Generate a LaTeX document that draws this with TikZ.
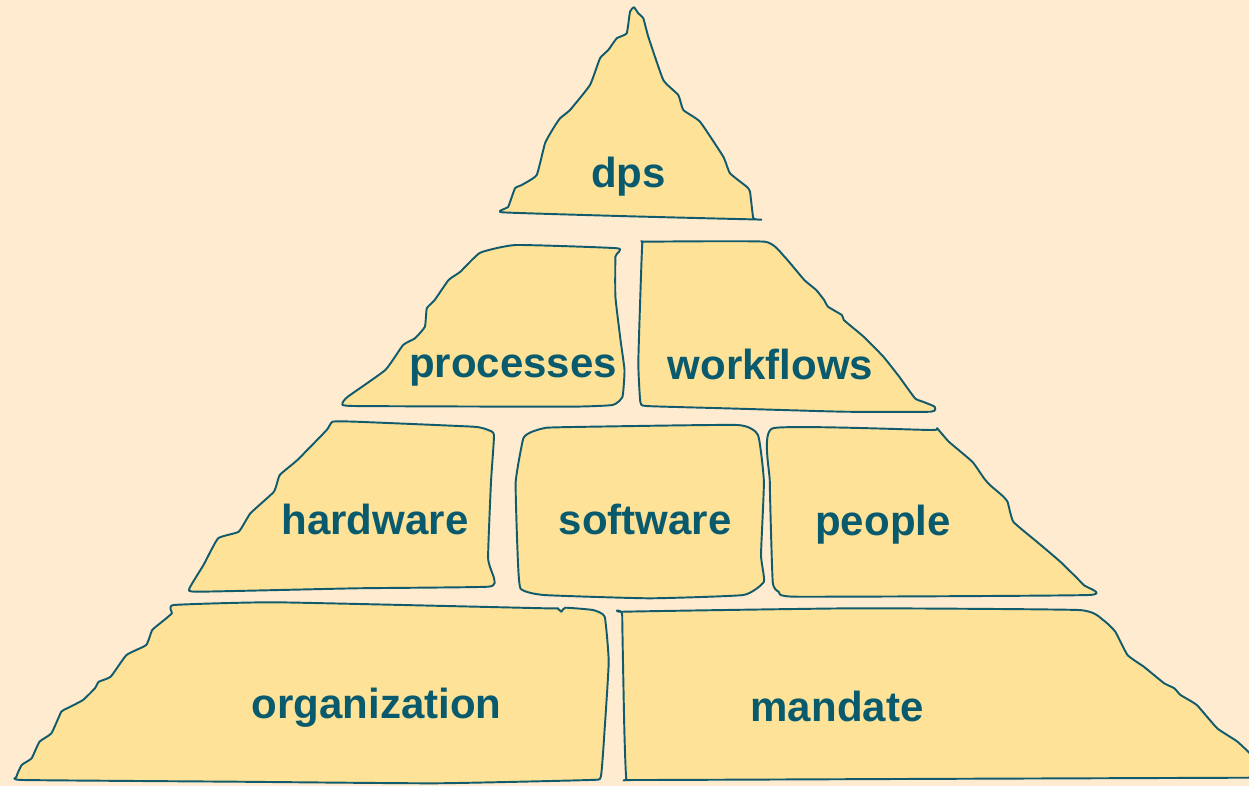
\documentclass[tikz,border=0pt]{standalone}
\usepackage{fontspec}
\setmainfont{Liberation Sans}
\definecolor{bg}{HTML}{FFEBD0}
\definecolor{blockfill}{HTML}{FDE298}
\definecolor{ink}{HTML}{115B6C}
\definecolor{labelink}{HTML}{0A5A6E}
\begin{document}
\begin{tikzpicture}[x=0.75pt,y=-0.75pt,
  piece/.style={draw=ink, fill=blockfill, line width=1.45pt, line join=round},
  lbl/.style={text=labelink, font=\fontsize{31.5}{36}\selectfont\bfseries, anchor=base, inner sep=0pt}]
\fill[bg] (0,0) rectangle (1249,786);
\useasboundingbox (0,0) rectangle (1249,786);
\clip (0,0) rectangle (1249,786);

% top: dps
\draw[piece] plot[smooth cycle, tension=0.25] coordinates {
  (502.5,212.3) (508.3,206.7) (515,188.3) (521.7,185) (536.7,175) (545,143.3)
  (553.3,128.3) (560,118.3) (570,110) (590,85) (600,58.3) (608.3,50) (616.7,38.3)
  (626.7,33.3) (630,11.7) (634,7.3) (638.3,13.3) (643.3,18.3) (648.3,36.7)
  (663.3,80) (678.3,95) (683.3,110) (700,121.7) (723.3,156.7) (730,173.3)
  (746.7,186.7) (750,191.7) (753.3,218.3) (758.5,219.5) (630,216.3)};

% second row: processes
\draw[piece] plot[smooth cycle, tension=0.25] coordinates {
  (480.2,252.7) (515.8,245) (617.5,248.3) (615.4,256.7) (615.4,296.7) (620.5,340)
  (624.5,370) (622.5,396.7) (612.6,405) (567,406.7) (353.7,406) (342.5,403.3)
  (347.8,396.7) (385.3,370) (403.1,345) (415,338.3) (424.9,326.7) (426.8,308.3)
  (434.7,300) (448.6,280) (460.4,271.7)};

% second row: workflows
\draw[piece] plot[smooth cycle, tension=0.25] coordinates {
  (646.2,241.7) (764.8,241.7) (784.5,256.7) (804.3,280) (816.2,290) (824.1,300)
  (828,306.7) (841.8,315) (843.8,320) (851.7,326.7) (863.6,336.7) (883.4,356.7)
  (899.2,376.7) (915,398.3) (922.9,401.7) (934.7,406.7) (930.8,411.7)
  (843.8,411.7) (725,408.3) (646.2,406) (640.3,401.7) (638.3,363.3) (640.3,296.7)
  (642.3,243.3)};

% third row: hardware
\draw[piece] plot[smooth cycle, tension=0.25] coordinates {
  (326.7,430) (332.6,421.7) (356,421.7) (473.4,426.7) (488.1,430) (494,435)
  (491,481.7) (488.1,558.3) (494,578.3) (488.1,586.7) (356,588.3) (197.6,591.7)
  (189.5,588.3) (203.5,565) (218.1,538.3) (238.7,531.7) (250.4,513.3)
  (273.9,491.7) (279.8,475) (297.4,460)};

% third row: software
\draw[piece] plot[smooth cycle, tension=0.25] coordinates {
  (532.1,431.7) (546.8,427.7) (590.8,426.7) (737.5,425) (758,435) (763.9,481.7)
  (761,555) (763.9,581.7) (743.4,595) (649.5,598.3) (543.8,595) (520.4,588.3)
  (517.4,548.3) (515.7,481.7) (523.3,438.3)};

% third row: people
\draw[piece] plot[smooth cycle, tension=0.25] coordinates {
  (772.7,428.3) (931.2,430) (937,428.3) (948.8,441.7) (972.3,461.7) (984,478.3)
  (989.9,485) (1001.6,495) (1007.5,501.7) (1013.3,521.7) (1036.8,541.7)
  (1060.3,561.7) (1083.7,585) (1088.5,595) (796.2,596.7) (778.6,591.7)
  (772.7,581.7) (769.8,481.7)};

% base row: organization
\draw[piece] plot[smooth cycle, tension=0.25] coordinates {
  (173.9,605) (276.7,602.3) (545.5,608.3) (557.3,608.3) (561.3,611.7) (565.2,607.7)
  (592.9,610) (604.7,616.7) (608.7,661.7) (604.7,728.3) (600.8,776.7) (588.9,780)
  (434.8,783.3) (237.2,781.7) (23.7,780) (16.5,776.7) (21.7,765) (31.6,758.3)
  (39.5,741.7) (51.4,733.3) (61.3,711.7) (67.2,708.3) (83,700) (94.9,688.3)
  (98.8,681.7) (110.7,676.7) (126.5,655) (146.2,645) (152.2,630) (162.1,621.7)
  (171.9,613.3)};

% base row: mandate
\draw[piece] plot[smooth cycle, tension=0.25] coordinates {
  (624.3,611.7) (854.5,608.3) (1078.6,610) (1103.1,620) (1115.3,631.7)
  (1127.5,655) (1143.8,666.7) (1147.9,670) (1164.2,683.3) (1174.4,688.3)
  (1180.5,695) (1196.8,705) (1217.2,728.3) (1237.5,741.7) (1256,760)
  (1258,778) (1249,777.7) (895.2,779) (634.4,780) (626.3,778.3) (624.3,728.3)
  (622.2,615)};

% labels
\node[lbl] (dps) at (628.5,187) {dps};
\node[lbl] (processes) at (513,377) {processes};
\node[lbl] (workflows) at (770.5,379) {workflows};
\node[lbl] (hardware) at (375,534) {hardware};
\node[lbl] (software) at (645,534) {software};
\node[lbl] (people) at (883,535) {people};
\node[lbl] (organization) at (376.5,718) {organization};
\node[lbl] (mandate) at (837,721) {mandate};
\end{tikzpicture}
\end{document}
